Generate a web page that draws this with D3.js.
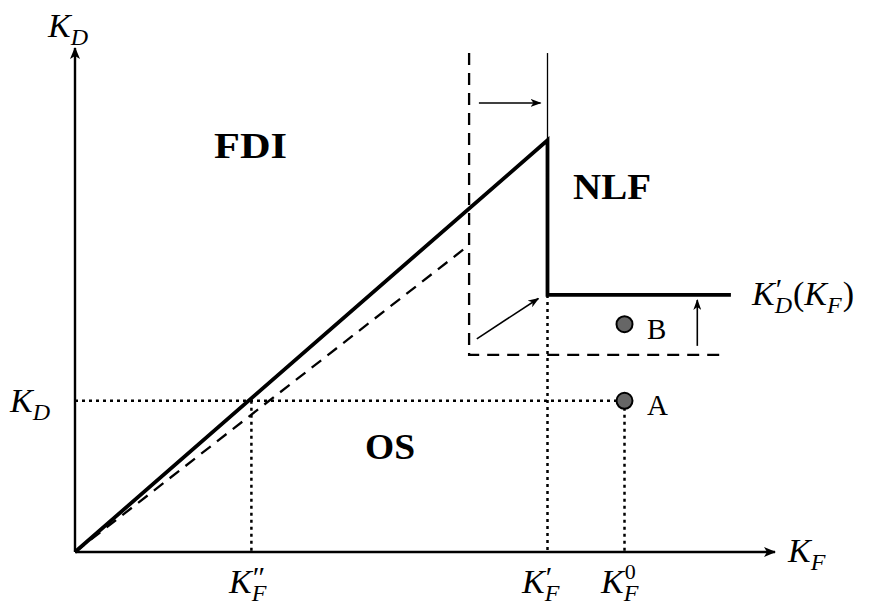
<!DOCTYPE html>
<html>
<head>
<meta charset="utf-8">
<script src="https://cdn.jsdelivr.net/npm/d3@7"></script>
<style>
  body { margin: 0; background: #fff; }
</style>
</head>
<body>
<div id="chart"></div>
<script>
// key values of the diagram (data units, x: 0..10, y: 0..10)
const kF2 = 2.52;      // K''_F
const kF1 = 6.75;      // K'_F
const kF0 = 7.85;      // K^0_F
const kD = 3.0;        // K_D
const kDprime = 5.1;   // K'_D(K_F)
const peakY = 8.17;    // top of solid ray at K'_F
const oldKF = 5.63;    // old (dashed) threshold
const oldPeakY = 6.09;
const oldFloor = 3.91;
const topY = 9.9;
const rightEnd = 9.37;
const oldRightEnd = 9.3;
const pointA = [kF0, kD];
const pointB = [kF0, 4.52];

const solidPath = [[0, 0], [kF1, peakY], [kF1, kDprime], [rightEnd, kDprime]];
const dashedRay = [[0, 0], [oldKF, oldPeakY]];
const dashedStep = [[oldKF, topY], [oldKF, oldFloor], [oldRightEnd, oldFloor]];
const dottedLines = [
  [[0, kD], [kF0, kD]],
  [[kF2, kD], [kF2, 0]],
  [[kF1, kDprime], [kF1, 0]],
  [[kF0, kD], [kF0, 0]]
];
const shiftArrows = [
  [[5.77, 8.91], [6.65, 8.91]],
  [[5.74, 4.23], [6.62, 5.03]],
  [[8.89, 4.09], [8.89, 5.0]]
];

const width = 870, height = 606;
const serif = "'Liberation Serif', 'DejaVu Serif', serif";
const x = d3.scaleLinear().domain([0, 10]).range([75, 775]);
const y = d3.scaleLinear().domain([0, 10]).range([552, 48]);

const svg = d3.select("#chart").append("svg")
  .attr("width", width).attr("height", height)
  .attr("font-family", serif);

const defs = svg.append("defs");
defs.append("marker").attr("id", "axisHead")
  .attr("viewBox", "0 -5 12 10").attr("refX", 11).attr("refY", 0)
  .attr("markerWidth", 12).attr("markerHeight", 10)
  .attr("markerUnits", "userSpaceOnUse").attr("orient", "auto")
  .append("path").attr("d", "M0,-5L12,0L0,5L3,0Z").attr("fill", "#000");
defs.append("marker").attr("id", "smallHead")
  .attr("viewBox", "0 -4 11 8").attr("refX", 10).attr("refY", 0)
  .attr("markerWidth", 11).attr("markerHeight", 8)
  .attr("markerUnits", "userSpaceOnUse").attr("orient", "auto")
  .append("path").attr("d", "M0,-4L11,0L0,4L3,0Z").attr("fill", "#000");

const line = d3.line().x(d => x(d[0])).y(d => y(d[1]));

// axes
svg.append("line")
  .attr("x1", x(0)).attr("y1", y(0)).attr("x2", x(0)).attr("y2", y(10))
  .attr("stroke", "#000").attr("stroke-width", 2.4).attr("marker-end", "url(#axisHead)");
svg.append("line")
  .attr("x1", x(0)).attr("y1", y(0)).attr("x2", x(10)).attr("y2", y(0))
  .attr("stroke", "#000").attr("stroke-width", 2.4).attr("marker-end", "url(#axisHead)");

// dotted guides
svg.selectAll(".dot-guide").data(dottedLines).enter().append("path")
  .attr("d", line).attr("fill", "none").attr("stroke", "#000")
  .attr("stroke-width", 2.5).attr("stroke-dasharray", "3,4");

// dashed (old) curve
svg.append("path").attr("d", line(dashedRay)).attr("fill", "none")
  .attr("stroke", "#000").attr("stroke-width", 2.3).attr("stroke-dasharray", "12,8");
svg.append("path").attr("d", line(dashedStep)).attr("fill", "none")
  .attr("stroke", "#000").attr("stroke-width", 2.3).attr("stroke-dasharray", "12,8");

// thin vertical above the peak
svg.append("path").attr("d", line([[kF1, topY], [kF1, peakY]]))
  .attr("stroke", "#000").attr("stroke-width", 1.3);

// solid (new) curve
svg.append("path").attr("d", line(solidPath)).attr("fill", "none")
  .attr("stroke", "#000").attr("stroke-width", 3.8).attr("stroke-linejoin", "miter");

// shift arrows
svg.selectAll(".shift").data(shiftArrows).enter().append("path")
  .attr("d", line).attr("fill", "none").attr("stroke", "#000")
  .attr("stroke-width", 1.6).attr("marker-end", "url(#smallHead)");

// points A and B
svg.selectAll(".pt").data([pointA, pointB]).enter().append("circle")
  .attr("cx", d => x(d[0])).attr("cy", d => y(d[1])).attr("r", 8)
  .attr("fill", "#666").attr("stroke", "#000").attr("stroke-width", 2);

// math labels: each piece is its own text, placed from measured widths
function piece(px, py, str, size, italic) {
  return svg.append("text").attr("x", px).attr("y", py)
    .attr("font-size", size).attr("font-style", italic ? "italic" : "normal")
    .text(str);
}
function mathLabel(px, py, sup, sub, tail) {
  const k = piece(px, py, "K", 34, true);
  const w = k.node().getComputedTextLength();
  let end = px + w;
  if (sup) {
    const s = sup === "0"
      ? piece(px + w + 1, py - 14, sup, 22, false)
      : piece(px + w + 1, py - 6, sup, 30, false);
    end = Math.max(end, px + w + 1 + s.node().getComputedTextLength());
  }
  const sb = piece(px + w, py + 8, sub, 24, true);
  end = Math.max(end, px + w + sb.node().getComputedTextLength());
  if (tail) {
    const p1 = piece(end + 1, py, "(", 34, false);
    let cx = end + 1 + p1.node().getComputedTextLength();
    const k2 = piece(cx, py, "K", 34, true);
    cx += k2.node().getComputedTextLength();
    const f = piece(cx, py + 8, "F", 24, true);
    cx += f.node().getComputedTextLength() + 1;
    piece(cx, py, ")", 34, false);
  }
}

mathLabel(48, 37, null, "D");
mathLabel(10, 412, null, "D");
mathLabel(788, 562, null, "F");
mathLabel(229, 593, "\u2033", "F");
mathLabel(522, 593, "\u2032", "F");
mathLabel(601, 593, "0", "F");
mathLabel(752, 305, "\u2032", "D", true);

svg.append("text").attr("x", 647).attr("y", 339).attr("font-size", 29).text("B");
svg.append("text").attr("x", 647).attr("y", 415).attr("font-size", 29).text("A");

// region labels
const regions = [
  { t: "FDI", x: 214, y: 158, w: 73 },
  { t: "NLF", x: 573, y: 199, w: 78 },
  { t: "OS", x: 365, y: 459, w: 50 }
];
svg.selectAll(".region").data(regions).enter().append("text")
  .attr("x", d => d.x).attr("y", d => d.y)
  .attr("font-size", 36).attr("font-weight", "bold")
  .attr("textLength", d => d.w).attr("lengthAdjust", "spacingAndGlyphs")
  .text(d => d.t);
</script>
</body>
</html>
